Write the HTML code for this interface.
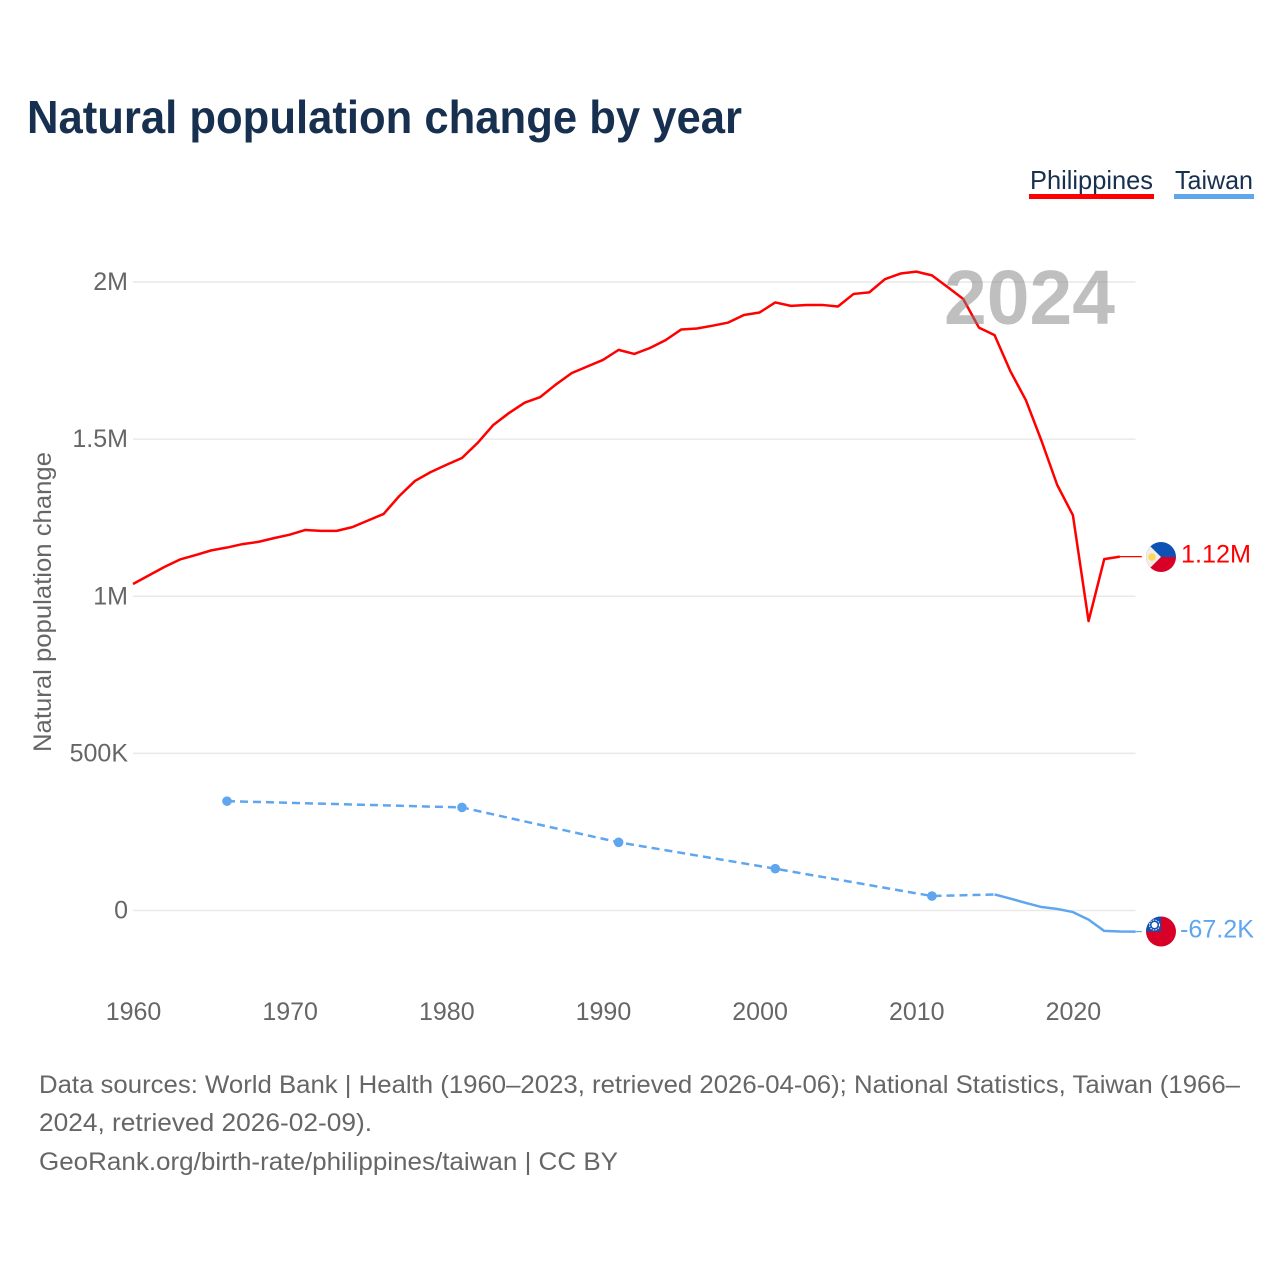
<!DOCTYPE html>
<html lang="en">
<head>
<meta charset="utf-8">
<title>Natural population change by year</title>
<style>
  html, body { margin: 0; padding: 0; background: #fff; }
  svg { display: block; font-family: "Liberation Sans", sans-serif; }
  .tick { font-size: 25px; fill: #666; }
  .foot { font-size: 25px; fill: #666; }
</style>
</head>
<body>
<svg id="chart" xmlns="http://www.w3.org/2000/svg" width="1280" height="1280" viewBox="0 0 1280 1280">
  <defs>
    <clipPath id="flag-clip-ph"><circle cx="1161" cy="557" r="15"/></clipPath>
    <clipPath id="flag-clip-tw"><circle cx="1161" cy="931.5" r="15"/></clipPath>
  </defs>
  <rect width="1280" height="1280" fill="#fff"/>
  <text x="27" y="133" font-size="46" font-weight="700" fill="#18304f" textLength="715" lengthAdjust="spacingAndGlyphs">Natural population change by year</text>

  <g>
    <text x="1030" y="189" font-size="26" fill="#18304f" textLength="123" lengthAdjust="spacingAndGlyphs">Philippines</text>
    <rect x="1029" y="194" width="125" height="5" fill="#ff0000"/>
  </g>
  <g>
    <text x="1175" y="189" font-size="26" fill="#18304f" textLength="78" lengthAdjust="spacingAndGlyphs">Taiwan</text>
    <rect x="1174" y="194" width="80" height="5" fill="#5fa6ee"/>
  </g>

  <text class="tick" transform="translate(51 602) rotate(-90)" text-anchor="middle" textLength="300" lengthAdjust="spacingAndGlyphs">Natural population change</text>

  <g id="grid"></g>
  <g id="y-labels"></g>
  <g id="x-labels"></g>
  <g id="series"></g>

  <text x="944" y="324" font-size="77" font-weight="700" fill="#808080" fill-opacity="0.5" textLength="171" lengthAdjust="spacingAndGlyphs">2024</text>

  <g clip-path="url(#flag-clip-ph)">
    <rect x="1145" y="541" width="32" height="16" fill="#0f52b5"/>
    <rect x="1145" y="557" width="32" height="17" fill="#d80027"/>
    <polygon points="1145,541 1161,557 1145,573" fill="#f1efe9"/>
    <circle cx="1152" cy="557" r="3.8" fill="#ffd75a"/>
  </g>
  <g clip-path="url(#flag-clip-tw)">
    <rect x="1145" y="915" width="32" height="33" fill="#d80027"/>
    <rect x="1145" y="915" width="16" height="16.5" fill="#0f52b5"/>
    <circle cx="1154.5" cy="925" r="3" fill="#fff"/>
    <circle cx="1154.5" cy="925" r="5" fill="none" stroke="#fff" stroke-width="1" stroke-dasharray="1.5 1.2"/>
  </g>

  <g id="end-labels"></g>

  <g>
    <text class="foot" x="39" y="1093" textLength="1201" lengthAdjust="spacingAndGlyphs">Data sources: World Bank | Health (1960–2023, retrieved 2026-04-06); National Statistics, Taiwan (1966–</text>
    <text class="foot" x="39" y="1131" textLength="333" lengthAdjust="spacingAndGlyphs">2024, retrieved 2026-02-09).</text>
    <text class="foot" x="39" y="1170" textLength="579" lengthAdjust="spacingAndGlyphs">GeoRank.org/birth-rate/philippines/taiwan | CC BY</text>
  </g>
</svg>
<script>
const xTickYears = [1960, 1970, 1980, 1990, 2000, 2010, 2020];
const yTickValues = [0, 500000, 1000000, 1500000, 2000000];
const yTickLabels = ['0', '500K', '1M', '1.5M', '2M'];

const philippinesYears = [1960,1961,1962,1963,1964,1965,1966,1967,1968,1969,1970,1971,1972,1973,1974,1975,1976,1977,1978,1979,1980,1981,1982,1983,1984,1985,1986,1987,1988,1989,1990,1991,1992,1993,1994,1995,1996,1997,1998,1999,2000,2001,2002,2003,2004,2005,2006,2007,2008,2009,2010,2011,2012,2013,2014,2015,2016,2017,2018,2019,2020,2021,2022,2023];
const philippinesValues = [1039000,1066000,1093000,1117000,1131000,1146000,1155000,1166000,1173000,1185000,1196000,1211000,1208000,1208000,1220000,1241000,1262000,1319000,1367000,1395000,1418000,1440000,1488000,1545000,1583000,1616000,1634000,1674000,1710000,1731000,1752000,1784000,1771000,1790000,1815000,1849000,1852000,1861000,1871000,1895000,1903000,1935000,1924000,1927000,1927000,1922000,1962000,1967000,2009000,2027000,2033000,2021000,1984000,1946000,1855000,1831000,1717000,1624000,1494000,1354000,1258000,921000,1118000,1126000];

const taiwanCensusYears = [1966, 1981, 1991, 2001, 2011];
const taiwanCensusValues = [348000, 328000, 217000, 133000, 46000];
const taiwanAnnualYears = [2015,2016,2017,2018,2019,2020,2021,2022,2023,2024];
const taiwanAnnualValues = [51000,38000,24000,11000,5000,-5000,-29000,-65000,-67000,-67200];

const philippinesEndLabel = '1.12M';
const taiwanEndLabel = '-67.2K';
const leaderEndYear = 2024.4;

const NS = 'http://www.w3.org/2000/svg';
const RED = '#ff0000';
const BLUE = '#5fa6ee';
const xScale = function (year) { return 133 + (year - 1960) * 15.665; };
const yScale = function (value) { return 910.5 - value * 314.25 / 1000000; };

function make(parentId, tag, attrs) {
  const el = document.createElementNS(NS, tag);
  for (const key in attrs) { el.setAttribute(key, attrs[key]); }
  document.getElementById(parentId).appendChild(el);
  return el;
}
function linePath(years, values) {
  return years.map(function (year, i) {
    return (i ? 'L' : 'M') + xScale(year).toFixed(2) + ' ' + yScale(values[i]).toFixed(2);
  }).join(' ');
}

yTickValues.forEach(function (value, i) {
  const line = make('grid', 'line', { x1: 133, x2: 1135.5, y1: yScale(value), y2: yScale(value), stroke: '#e9e9e9', 'stroke-width': 1.5 });
  
  
  const label = make('y-labels', 'text', { x: 128, y: yScale(value) + 8, 'text-anchor': 'end', class: 'tick' });
  
  
  label.textContent = yTickLabels[i];
});

xTickYears.forEach(function (year) {
  const label = make('x-labels', 'text', { x: xScale(year) + 0.5, y: 1020, 'text-anchor': 'middle', class: 'tick' });
  
  
  label.textContent = year;
});

const lastRed = philippinesValues.length - 1;
const redLeader = make('series', 'line', { x1: xScale(philippinesYears[lastRed]), x2: xScale(leaderEndYear), y1: yScale(philippinesValues[lastRed]), y2: yScale(philippinesValues[lastRed]), stroke: RED, 'stroke-width': 1.2 });



const redLine = make('series', 'path', { d: linePath(philippinesYears, philippinesValues), fill: 'none', stroke: RED, 'stroke-width': 2.5, 'stroke-linejoin': 'round' });



const dashedYears = taiwanCensusYears.concat([taiwanAnnualYears[0]]);
const dashedValues = taiwanCensusValues.concat([taiwanAnnualValues[0]]);
const blueDashed = make('series', 'path', { d: linePath(dashedYears, dashedValues), fill: 'none', stroke: BLUE, 'stroke-width': 2.5, 'stroke-dasharray': '8 5' });



const blueLine = make('series', 'path', { d: linePath(taiwanAnnualYears, taiwanAnnualValues), fill: 'none', stroke: BLUE, 'stroke-width': 2.5, 'stroke-linejoin': 'round' });



const lastBlue = taiwanAnnualValues.length - 1;
const blueLeader = make('series', 'line', { x1: xScale(taiwanAnnualYears[lastBlue]), x2: xScale(leaderEndYear), y1: yScale(taiwanAnnualValues[lastBlue]), y2: yScale(taiwanAnnualValues[lastBlue]), stroke: BLUE, 'stroke-width': 1.2 });



taiwanCensusYears.forEach(function (year, i) {
  const dot = make('series', 'circle', { cx: xScale(year), cy: yScale(taiwanCensusValues[i]), r: 4.8, fill: BLUE });
  
  
});

const redLabel = make('end-labels', 'text', { x: 1181, y: yScale(philippinesValues[lastRed]) + 6, 'font-size': 25, fill: RED, textLength: 70, lengthAdjust: 'spacingAndGlyphs' });


redLabel.textContent = philippinesEndLabel;

const blueLabel = make('end-labels', 'text', { x: 1180, y: yScale(taiwanAnnualValues[lastBlue]) + 6, 'font-size': 25, fill: BLUE, textLength: 74, lengthAdjust: 'spacingAndGlyphs' });


blueLabel.textContent = taiwanEndLabel;
</script>
</body>
</html>
